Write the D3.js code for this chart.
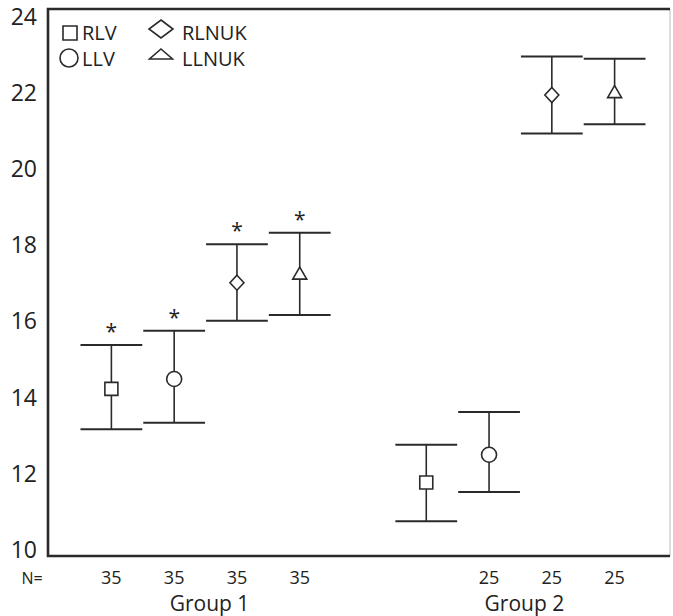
<!DOCTYPE html>
<html>
<head>
<meta charset="utf-8">
<script src="https://cdn.jsdelivr.net/npm/d3@7"></script>
<style>
  html, body { margin: 0; padding: 0; background: #fff; }
  svg { display: block; }
  text { font-family: "Open Sans", "Noto Sans", sans-serif; fill: #222; }
</style>
</head>
<body>
<svg id="chart" width="673" height="616"></svg>
<script>
// ---- data ----
const groups = ["Group 1", "Group 2"];
const series = ["RLV", "LLV", "RLNUK", "LLNUK"];
const symbols = ["square", "circle", "diamond", "triangle"];
const meanG1 = [14.23, 14.49, 17.02, 17.27];
const upperG1 = [15.38, 15.76, 18.03, 18.33];
const lowerG1 = [13.17, 13.34, 16.02, 16.17];
const meanG2 = [11.77, 12.50, 21.95, 22.04];
const upperG2 = [12.76, 13.62, 22.96, 22.90];
const lowerG2 = [10.75, 11.52, 20.94, 21.18];
const starG1 = [true, true, true, true];
const starG2 = [false, false, false, false];
const nG1 = ["35", "35", "35", "35"];
const nG2 = ["", "25", "25", "25"];
const yTicks = [10, 12, 14, 16, 18, 20, 22, 24];

const rows = [];
groups.forEach((g, gi) => {
  const m = gi === 0 ? meanG1 : meanG2;
  const u = gi === 0 ? upperG1 : upperG2;
  const l = gi === 0 ? lowerG1 : lowerG2;
  const s = gi === 0 ? starG1 : starG2;
  const n = gi === 0 ? nG1 : nG2;
  series.forEach((k, si) => rows.push({group: g, key: k, sym: symbols[si], mean: m[si], hi: u[si], lo: l[si], star: s[si], n: n[si]}));
});

// ---- layout ----
const svg = d3.select("#chart");
const frame = {left: 48, right: 670, top: 9, bottom: 556};

const y = d3.scaleLinear().domain([9.84, 24.21]).range([frame.bottom, frame.top]);
const x0 = d3.scaleBand().domain(groups).range([80, 646]).paddingInner(0.2025).paddingOuter(0);
const x1 = d3.scaleBand().domain(series).range([0, x0.bandwidth()]);
const cx = d => x0(d.group) + x1(d.key) + x1.bandwidth() / 2;

const ink = "#2a2a2a";

// frame: dark left/top/bottom, faint right edge
svg.append("line").attr("x1", frame.right).attr("x2", frame.right).attr("y1", frame.top).attr("y2", frame.bottom)
  .attr("stroke", "#c8c8c8").attr("stroke-width", 1.2);
svg.append("path")
  .attr("d", `M${frame.right},${frame.top}H${frame.left}V${frame.bottom}H${frame.right}`)
  .attr("fill", "none").attr("stroke", ink).attr("stroke-width", 2.6);

// y axis labels
const yAxis = d3.axisLeft(y).tickValues(yTicks).tickSize(0).tickPadding(11).tickFormat(d3.format("d"));
const ga = svg.append("g").attr("transform", `translate(${frame.left},0)`).call(yAxis);
ga.select(".domain").remove();
ga.selectAll("text").attr("font-size", 23).attr("font-family", "Open Sans, sans-serif").attr("fill", "#222");

// error bars
const bars = svg.append("g").attr("stroke", ink).attr("stroke-width", 2);
const capHalf = x1.bandwidth() / 2 - 0.5;
rows.forEach(d => {
  const c = cx(d);
  bars.append("line").attr("x1", c).attr("x2", c).attr("y1", y(d.hi)).attr("y2", y(d.lo)).attr("stroke-width", 1.6);
  bars.append("line").attr("x1", c - capHalf).attr("x2", c + capHalf).attr("y1", y(d.hi)).attr("y2", y(d.hi));
  bars.append("line").attr("x1", c - capHalf).attr("x2", c + capHalf).attr("y1", y(d.lo)).attr("y2", y(d.lo));
});

// marker shapes, given width w and height h
function shapePath(sym, w, h) {
  const p = d3.path();
  if (sym === "square") { p.rect(-w / 2, -h / 2, w, h); }
  else if (sym === "circle") { p.arc(0, 0, w / 2, 0, 2 * Math.PI); p.closePath(); }
  else if (sym === "diamond") { p.moveTo(0, -h / 2); p.lineTo(w / 2, 0); p.lineTo(0, h / 2); p.lineTo(-w / 2, 0); p.closePath(); }
  else { p.moveTo(0, -h / 2); p.lineTo(w / 2, h / 2); p.lineTo(-w / 2, h / 2); p.closePath(); }
  return p.toString();
}
function drawSym(g, sym, x, yy, w, h) {
  g.append("path")
    .attr("d", shapePath(sym, w, h))
    .attr("transform", `translate(${x},${yy})`)
    .attr("fill", "#fff").attr("stroke", ink).attr("stroke-width", 1.6);
}
const plotSize = {square: [13, 13], circle: [15, 15], diamond: [14, 15], triangle: [14, 12]};
const marks = svg.append("g");
rows.forEach(d => drawSym(marks, d.sym, cx(d), y(d.mean), plotSize[d.sym][0], plotSize[d.sym][1]));

// asterisks
svg.append("g").selectAll("text").data(rows.filter(d => d.star)).join("text")
  .attr("x", d => cx(d)).attr("y", d => y(d.hi) - 6)
  .attr("text-anchor", "middle").attr("font-size", 21).attr("fill", "#333").text("*");

// N labels
svg.append("text").attr("x", 32).attr("y", 584).attr("text-anchor", "middle").attr("font-size", 16).text("N=");
svg.append("g").selectAll("text").data(rows.filter(d => d.n !== "")).join("text")
  .attr("x", d => cx(d)).attr("y", 584).attr("text-anchor", "middle").attr("font-size", 18).text(d => d.n);

// group labels
svg.append("g").selectAll("text").data(groups).join("text")
  .attr("x", g => x0(g) + x0.bandwidth() / 2 + 4).attr("y", 611)
  .attr("text-anchor", "middle").attr("font-size", 21).text(g => g);

// legend
const legend = svg.append("g");
const legendItems = [
  {sym: "square", label: "RLV", x: 70, y: 33, w: 14, h: 14, tx: 82},
  {sym: "circle", label: "LLV", x: 69, y: 58, w: 18, h: 18, tx: 82},
  {sym: "diamond", label: "RLNUK", x: 161, y: 29, w: 24, h: 18, tx: 182},
  {sym: "triangle", label: "LLNUK", x: 161, y: 54, w: 23, h: 10, tx: 182}
];
legendItems.forEach((it, i) => {
  drawSym(legend, it.sym, it.x, it.y, it.w, it.h);
  legend.append("text").attr("x", it.tx).attr("y", i % 2 === 0 ? 40 : 66)
    .attr("font-family", "Lato, 'Open Sans', sans-serif").attr("font-size", 20).text(it.label);
});
</script>
</body>
</html>
